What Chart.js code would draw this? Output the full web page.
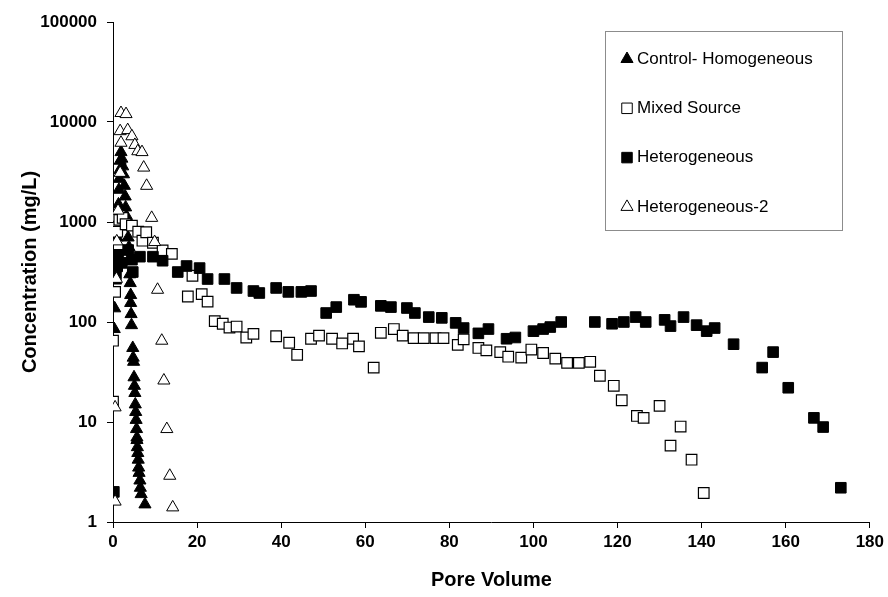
<!DOCTYPE html>
<html>
<head>
<meta charset="utf-8">
<script src="https://cdn.jsdelivr.net/npm/chart.js@4/dist/chart.umd.min.js"></script>
<style>
  html, body { margin: 0; padding: 0; background: #fff; }
</style>
</head>
<body>
<canvas id="chart" width="888" height="597"></canvas>
<script>
// series labels
const seriesNames = ['Control- Homogeneous', 'Mixed Source', 'Heterogeneous', 'Heterogeneous-2'];

// Control- Homogeneous
const controlX = [0.3, 0.4, 0.6, 0.8, 1.0, 1.1, 1.3, 1.4, 1.5, 1.6,
  1.7, 1.9, 2.1, 2.3, 2.5, 2.7, 2.9, 3.0, 3.2, 3.4,
  3.6, 3.8, 4.0, 4.0, 4.1, 4.2, 4.2, 4.3, 4.4, 4.7,
  4.8, 4.9, 5.0, 5.1, 5.2, 5.3, 5.4, 5.5, 5.6, 5.7,
  5.7, 5.8, 5.9, 6.0, 6.1, 6.2, 6.4, 6.5, 6.7, 7.6];
const controlY = [85, 137, 260, 420, 700, 1000, 1500, 2100, 2700, 3300,
  4100, 5000, 4300, 3600, 3000, 2300, 1800, 1400, 1150, 900,
  700, 560, 420, 300, 245, 186, 155, 120, 93, 55,
  44, 40, 28, 23, 19.5, 15, 12.6, 10.5, 8.5, 7,
  6.6, 5.6, 4.9, 4.2, 3.5, 3.1, 2.6, 2.2, 1.9, 1.5];

// Mixed Source
const mixedX = [0, 0, 0.5, 0.2, 0.5, 1.0, 1.5, 2.3, 3.0, 4.5,
  6.0, 7.0, 7.9, 9.5, 11.8, 14.0, 17.8, 18.9, 21.1, 22.5,
  24.2, 26.1, 27.7, 29.4, 31.7, 33.4, 38.8, 41.9, 43.8, 47.1,
  49.0, 52.1, 54.5, 57.1, 58.5, 62.0, 63.7, 66.8, 68.9, 71.5,
  73.9, 76.7, 78.6, 82.0, 83.4, 86.9, 88.8, 92.1, 94.0, 97.1,
  99.5, 102.3, 105.2, 108.0, 110.8, 113.5, 115.8, 119.1, 121.0, 124.6,
  126.2, 130.0, 132.6, 135.0, 137.6, 140.5];
const mixedY = [16, 65, 200, 1150, 880, 800, 1050, 1100, 950, 920,
  800, 650, 790, 620, 520, 480, 180, 290, 190, 160,
  102, 96, 88, 90, 70, 76, 72, 62, 47, 68,
  73, 68, 61, 68, 57, 35, 78, 85, 73, 69,
  69, 69, 69, 59, 67, 55, 52, 50, 45, 44,
  53, 49, 43, 39, 39, 40, 29, 23, 16.5, 11.5,
  11, 14.5, 5.8, 9, 4.2, 1.95];

// Heterogeneous
const heteroX = [0.2, 0.5, 0.7, 1.0, 1.2, 2.1, 3.6, 4.5, 4.7, 6.4,
  9.5, 11.8, 15.4, 17.5, 20.6, 22.5, 26.5, 29.4, 33.4, 34.8,
  38.8, 41.7, 44.8, 47.1, 50.7, 53.1, 57.3, 59.0, 63.7, 66.1,
  69.9, 71.8, 75.1, 78.2, 81.5, 83.4, 86.9, 89.3, 93.6, 95.7,
  100.0, 102.3, 104.0, 106.6, 114.6, 118.7, 121.5, 124.3, 126.7, 131.2,
  132.6, 135.7, 138.8, 141.2, 143.1, 147.6, 154.4, 157.0, 160.6, 166.7,
  168.9, 173.1];
const heteroY = [2, 420, 300, 360, 470, 390, 525, 420, 316, 450,
  450, 410, 316, 363, 346, 269, 269, 219, 204, 195,
  219, 200, 200, 204, 123, 141, 167, 159, 145, 141,
  138, 123, 112, 110, 98, 87, 77, 85, 68, 70,
  81, 85, 89, 100, 100, 96, 100, 112, 100, 105,
  91, 112, 93, 81, 87, 60, 35, 50, 22, 11,
  8.9, 2.2];

// Heterogeneous-2
const hetero2X = [0.5, 0.5, 0.8, 0.9, 1.2, 1.7, 1.9, 1.7, 1.9, 3.1,
  3.5, 4.5, 5.2, 5.9, 6.9, 7.3, 8.0, 9.2, 9.9, 10.6,
  11.6, 12.1, 12.8, 13.5, 14.2];
const hetero2Y = [1.6, 14, 270, 640, 1300, 3100, 6200, 8100, 12300, 12000,
  8300, 7200, 5900, 5100, 5000, 3500, 2300, 1100, 630, 210,
  65, 26, 8.5, 2.9, 1.4];

// axis ticks
const xTicks = [0, 20, 40, 60, 80, 100, 120, 140, 160, 180];
const yTicks = [1, 10, 100, 1000, 10000, 100000];

const pts = (xs, ys) => xs.map((x, i) => ({x: x, y: ys[i]}));

const FONT = '"Liberation Sans", Arial, sans-serif';

function drawMarker(ctx, style, fill, x, y, r) {
  ctx.beginPath();
  if (style === 'triangle') {
    ctx.moveTo(x, y - r);
    ctx.lineTo(x + r * 0.866, y + r * 0.5);
    ctx.lineTo(x - r * 0.866, y + r * 0.5);
    ctx.closePath();
  } else {
    const s = r * 0.75;
    ctx.rect(x - s, y - s, 2 * s, 2 * s);
  }
  ctx.fillStyle = fill;
  ctx.fill();
  ctx.strokeStyle = '#000';
  ctx.lineWidth = 1;
  ctx.stroke();
}

// legend drawn inside the plot, like the original
const boxLegend = {
  id: 'boxLegend',
  afterDraw(chart) {
    const ctx = chart.ctx;
    ctx.save();
    ctx.strokeStyle = '#8c8c8c';
    ctx.lineWidth = 1;
    ctx.strokeRect(605.5, 31.5, 237, 199);
    ctx.font = '17px ' + FONT;
    ctx.textBaseline = 'middle';
    ctx.textAlign = 'left';
    chart.data.datasets.forEach((ds, i) => {
      const y = 59 + i * 49.3;
      drawMarker(ctx, ds.pointStyle, ds.pointBackgroundColor, 627, y, 7);
      ctx.fillStyle = '#000';
      ctx.fillText(ds.label, 637, y);
    });
    ctx.restore();
  }
};

new Chart(document.getElementById('chart').getContext('2d'), {
  type: 'scatter',
  data: {
    datasets: [
      {
        label: seriesNames[0],
        data: pts(controlX, controlY),
        pointStyle: 'triangle',
        pointRadius: 7,
        pointBackgroundColor: '#000',
        pointBorderColor: '#000',
        pointBorderWidth: 1,
        order: 4
      },
      {
        label: seriesNames[1],
        data: pts(mixedX, mixedY),
        pointStyle: 'rect',
        pointRadius: 7.5,
        pointBackgroundColor: '#fff',
        pointBorderColor: '#000',
        pointBorderWidth: 1.2,
        order: 3
      },
      {
        label: seriesNames[2],
        data: pts(heteroX, heteroY),
        pointStyle: 'rect',
        pointRadius: 7.5,
        pointBackgroundColor: '#000',
        pointBorderColor: '#000',
        pointBorderWidth: 1,
        order: 2
      },
      {
        label: seriesNames[3],
        data: pts(hetero2X, hetero2Y),
        pointStyle: 'triangle',
        pointRadius: 7,
        pointBackgroundColor: '#fff',
        pointBorderColor: '#000',
        pointBorderWidth: 1,
        order: 1
      }
    ]
  },
  options: {
    responsive: false,
    animation: false,
    layout: {padding: {left: 0, top: 22, right: 15, bottom: 0}},
    plugins: {
      legend: {display: false},
      tooltip: {enabled: false}
    },
    scales: {
      x: {
        type: 'linear',
        min: 0,
        max: 180,
        afterBuildTicks: s => { s.ticks = xTicks.map(v => ({value: v})); },
        afterFit: s => { s.height = 75; },
        ticks: {
          color: '#000',
          font: {family: FONT, size: 17, weight: 'bold'},
          padding: 4,
          maxRotation: 0
        },
        grid: {drawOnChartArea: false, color: '#000', tickLength: 6},
        border: {color: '#000', width: 1},
        title: {
          display: true,
          text: 'Pore Volume',
          color: '#000',
          font: {family: FONT, size: 20, weight: 'bold'},
          padding: {top: 0, bottom: 5}
        }
      },
      y: {
        type: 'logarithmic',
        min: 1,
        max: 100000,
        afterBuildTicks: s => { s.ticks = yTicks.map(v => ({value: v})); },
        afterFit: s => { s.width = 113; },
        ticks: {
          color: '#000',
          font: {family: FONT, size: 17, weight: 'bold'},
          padding: 10,
          callback: v => String(v)
        },
        grid: {drawOnChartArea: false, color: '#000', tickLength: 6},
        border: {color: '#000', width: 1},
        title: {
          display: true,
          text: 'Concentration (mg/L)',
          color: '#000',
          font: {family: FONT, size: 20, weight: 'bold'},
          padding: {top: 18, bottom: 0}
        }
      }
    }
  },
  plugins: [boxLegend]
});
</script>
</body>
</html>
